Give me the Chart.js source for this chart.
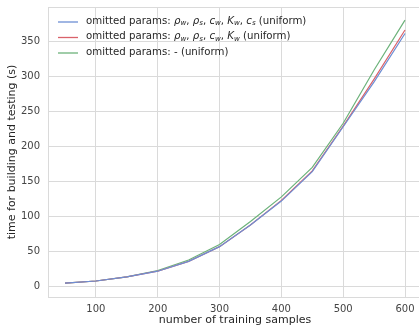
<!DOCTYPE html>
<html>
<head>
<meta charset="utf-8">
<script src="https://cdn.jsdelivr.net/npm/chart.js@4"></script>
<style>
  html, body { margin: 0; padding: 0; background: #fff; overflow: hidden; }
  #wrap { width: 419px; height: 327px; overflow: hidden; }
</style>
</head>
<body>
<div id="wrap"><canvas id="timeChart" width="422" height="327"></canvas></div>
<script>
// data
const samples = [50, 100, 150, 200, 250, 300, 350, 400, 450, 500, 550, 600];
const timeNoCs = [5, 8, 14, 22, 36, 57, 88, 122, 164, 228, 292, 361];
const timeNoKw = [5, 8, 14, 22, 36, 57, 88, 123, 165, 229, 296, 366];
const timeAll = [5, 8, 14, 23, 38, 60, 93, 128, 170, 233, 309, 380];
const xTicks = [100, 200, 300, 400, 500, 600];
const yTicks = [0, 50, 100, 150, 200, 250, 300, 350];
const legendLabels = [
  'omitted params: ρ_w, ρ_s, c_w, K_w, c_s (uniform)',
  'omitted params: ρ_w, ρ_s, c_w, K_w (uniform)',
  'omitted params: - (uniform)'
];

const FONT = '"DejaVu Sans", sans-serif';
const gridColor = '#dadada';
const colors = ['#6d8ed4', '#d9626a', '#6cb27a'];

// draw a label where "x_y" means italic x with subscript y
function drawRichText(ctx, text, x, y, size) {
  const parts = text.split(/([ρcK]_\w)/);
  parts.forEach(p => {
    if (!p) return;
    const m = p.match(/^([ρcK])_(\w)$/);
    if (m) {
      ctx.font = 'oblique ' + size + 'px ' + FONT;
      ctx.fillText(m[1], x, y);
      x += ctx.measureText(m[1]).width;
      ctx.font = 'oblique ' + (size * 0.7) + 'px ' + FONT;
      ctx.fillText(m[2], x, y + size * 0.25);
      x += ctx.measureText(m[2]).width;
    } else {
      ctx.font = size + 'px ' + FONT;
      ctx.fillText(p, x, y);
      x += ctx.measureText(p).width;
    }
  });
}

const framePlugin = {
  id: 'frame',
  afterDraw(chart) {
    const { ctx, chartArea: a } = chart;
    ctx.save();
    ctx.strokeStyle = gridColor;
    ctx.lineWidth = 1;
    ctx.strokeRect(a.left + 0.5, a.top + 0.5, a.right - a.left, a.bottom - a.top);

    // legend (no frame)
    ctx.textBaseline = 'middle';
    legendLabels.forEach((lab, i) => {
      const ry = a.top + 14 + i * 15.5;
      ctx.strokeStyle = colors[i];
      ctx.lineWidth = 1.3;
      ctx.beginPath();
      ctx.moveTo(a.left + 10, ry + 1);
      ctx.lineTo(a.left + 30, ry + 1);
      ctx.stroke();
      ctx.fillStyle = '#262626';
      drawRichText(ctx, lab, a.left + 38, ry, 10.2);
    });
    ctx.restore();
  }
};

const ctx = document.getElementById('timeChart').getContext('2d');
new Chart(ctx, {
  type: 'line',
  data: {
    labels: samples,
    datasets: [
      { label: legendLabels[0], data: samples.map((s, i) => ({ x: s, y: timeNoCs[i] })), borderColor: colors[0] },
      { label: legendLabels[1], data: samples.map((s, i) => ({ x: s, y: timeNoKw[i] })), borderColor: colors[1] },
      { label: legendLabels[2], data: samples.map((s, i) => ({ x: s, y: timeAll[i] })), borderColor: colors[2] }
    ].map(d => Object.assign(d, { borderWidth: 1.2, pointRadius: 0, fill: false, tension: 0 }))
  },
  options: {
    responsive: false,
    animation: false,
    devicePixelRatio: 1,
    layout: { padding: { top: 7, right: 0, left: 0, bottom: 0 } },
    plugins: { legend: { display: false }, tooltip: { enabled: false } },
    scales: {
      x: {
        type: 'linear',
        min: 22.5,
        max: 627.5,
        afterBuildTicks: s => { s.ticks = xTicks.map(v => ({ value: v })); },
        afterFit: s => { s.height = 30; s.paddingLeft = 0; s.paddingRight = 0; },
        grid: { color: gridColor, drawTicks: false },
        border: { color: gridColor },
        ticks: { padding: 6, color: '#444', font: { family: FONT, size: 10 } },
        title: {
          display: true, text: 'number of training samples', color: '#262626',
          font: { family: FONT, size: 11 }, padding: { top: 0, bottom: 0 }
        }
      },
      y: {
        type: 'linear',
        min: -14.8,
        max: 398.8,
        afterBuildTicks: s => { s.ticks = yTicks.map(v => ({ value: v })); },
        afterFit: s => { s.width = 48; s.paddingTop = 0; s.paddingBottom = 0; },
        grid: { color: gridColor, drawTicks: false },
        border: { color: gridColor },
        ticks: { padding: 8, color: '#444', font: { family: FONT, size: 10 } },
        title: {
          display: true, text: 'time for building and testing (s)', color: '#262626',
          font: { family: FONT, size: 11 }, padding: { top: 6, bottom: 0 }
        }
      }
    }
  },
  plugins: [framePlugin]
});
</script>
</body>
</html>
